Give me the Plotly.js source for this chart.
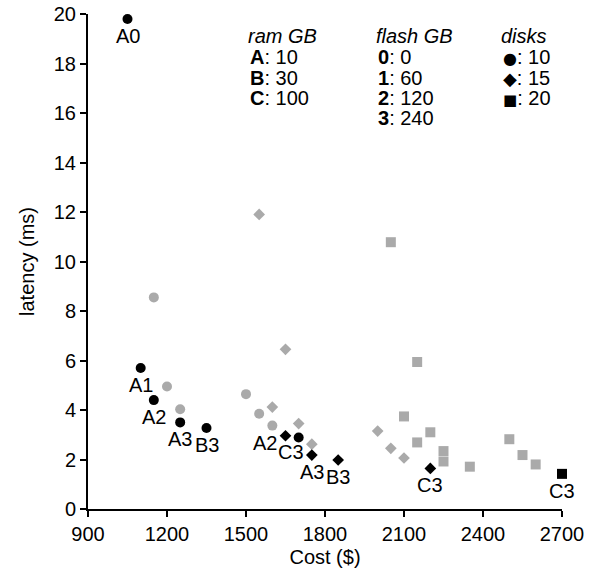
<!DOCTYPE html>
<html>
<head>
<meta charset="utf-8">
<script src="https://cdn.plot.ly/plotly-3.0.1.min.js"></script>
<style>html,body{margin:0;padding:0;background:#fff;}#chart{width:589px;height:576px;}</style>
</head>
<body>
<div id="chart"></div>
<script>
// ---- data ----
const grayCircleCost = [1150, 1200, 1250, 1500, 1550, 1600];
const grayCircleLat  = [8.55, 4.95, 4.03, 4.64, 3.85, 3.37];

const grayDiamondCost = [1550, 1650, 1600, 1700, 1750, 2000, 2050, 2100];
const grayDiamondLat  = [11.9, 6.45, 4.12, 3.45, 2.62, 3.15, 2.45, 2.06];

const graySquareCost = [2050, 2150, 2100, 2200, 2150, 2250, 2250, 2350, 2500, 2550, 2600];
const graySquareLat  = [10.78, 5.94, 3.74, 3.1, 2.69, 2.34, 1.92, 1.71, 2.82, 2.18, 1.8];

const blackCircleCost  = [1050, 1100, 1150, 1250, 1350, 1700];
const blackCircleLat   = [19.8, 5.7, 4.4, 3.5, 3.27, 2.89];
const blackCircleLabel = ['A0', 'A1', 'A2', 'A3', 'B3', 'C3'];

const blackDiamondCost  = [1650, 1750, 1850, 2200];
const blackDiamondLat   = [2.96, 2.18, 1.98, 1.64];
const blackDiamondLabel = ['A2', 'A3', 'B3', 'C3'];

const blackSquareCost  = [2700];
const blackSquareLat   = [1.42];
const blackSquareLabel = ['C3'];

const xTicks = [900, 1200, 1500, 1800, 2100, 2400, 2700];
const yTicks = [0, 2, 4, 6, 8, 10, 12, 14, 16, 18, 20];

const ramTitle = 'ram GB';
const ramKeys = ['A', 'B', 'C'];
const ramVals = ['10', '30', '100'];
const flashTitle = 'flash GB';
const flashKeys = ['0', '1', '2', '3'];
const flashVals = ['0', '60', '120', '240'];
const diskTitle = 'disks';
const diskKeys = ['\u25CF', '\u25C6', '\u25A0'];
const diskVals = ['10', '15', '20'];

// ---- style ----
const FONT = '"Liberation Sans", Arial, Helvetica, sans-serif';
const FS = 20;
const GRAY = '#aaaaaa';
const diskGlyphStyle = [
  'font-family:DejaVu Sans;font-size:16px',
  'font-family:DejaVu Sans;font-size:18px',
  'font-family:DejaVu Sans;font-size:15px'
];

function mk(x, y, sym, color, size) {
  return {
    type: 'scatter', mode: 'markers', x: x, y: y, cliponaxis: false,
    marker: {symbol: sym, color: color, size: size, line: {width: 0}},
    hoverinfo: 'skip', showlegend: false
  };
}

const traces = [
  mk(grayCircleCost, grayCircleLat, 'circle', GRAY, 10),
  mk(grayDiamondCost, grayDiamondLat, 'diamond', GRAY, 9),
  mk(graySquareCost, graySquareLat, 'square', GRAY, 10),
  mk(blackCircleCost, blackCircleLat, 'circle', '#000', 10),
  mk(blackDiamondCost, blackDiamondLat, 'diamond', '#000', 9),
  mk(blackSquareCost, blackSquareLat, 'square', '#000', 10)
];

// label offsets (pixels) -- style only
const defShift = [0, -17];
const specialShift = {'circle-5': [-8, -15], 'diamond-0': [-21, -7]};

const annotations = [];
function addLabels(xs, ys, labels, kind) {
  labels.forEach((t, i) => {
    const s = specialShift[kind + '-' + i] || defShift;
    annotations.push({
      x: xs[i], y: ys[i], xref: 'x', yref: 'y', text: t, showarrow: false,
      xanchor: 'center', yanchor: 'middle', xshift: s[0], yshift: s[1],
      font: {family: FONT, size: FS, color: '#000'}
    });
  });
}
addLabels(blackCircleCost, blackCircleLat, blackCircleLabel, 'circle');
addLabels(blackDiamondCost, blackDiamondLat, blackDiamondLabel, 'diamond');
addLabels(blackSquareCost, blackSquareLat, blackSquareLabel, 'square');

// key block
const rowY = [19.1, 18.25, 17.42, 16.6, 15.78];
function addKey(xLeft, title, keys, vals, keyStyles) {
  annotations.push({
    x: xLeft, y: rowY[0], xref: 'x', yref: 'y', text: '<i>' + title + '</i>',
    showarrow: false, xanchor: 'left', yanchor: 'middle',
    font: {family: FONT, size: FS, color: '#000'}
  });
  keys.forEach((k, i) => {
    const keyTxt = keyStyles ? '<span style="' + keyStyles[i] + '">' + k + '</span>' : '<b>' + k + '</b>';
    annotations.push({
      x: xLeft, y: rowY[i + 1], xref: 'x', yref: 'y', xshift: 2,
      text: keyTxt + ': ' + vals[i],
      showarrow: false, xanchor: 'left', yanchor: 'middle',
      font: {family: FONT, size: FS, color: '#000'}
    });
  });
}
addKey(1500, ramTitle, ramKeys, ramVals);
addKey(1985, flashTitle, flashKeys, flashVals);
addKey(2460, diskTitle, diskKeys, diskVals, diskGlyphStyle);

const axisCommon = {
  showgrid: false, zeroline: false, showline: true, linecolor: '#000', linewidth: 2,
  ticks: 'outside', ticklen: 6, tickwidth: 2, tickcolor: '#000',
  tickfont: {family: FONT, size: FS, color: '#000'}, mirror: false, fixedrange: true
};

const layout = {
  width: 589, height: 576,
  margin: {l: 88, r: 27, t: 14, b: 67},
  paper_bgcolor: '#fff', plot_bgcolor: '#fff',
  font: {family: FONT, size: FS, color: '#000'},
  xaxis: Object.assign({}, axisCommon, {
    range: [900, 2700], tickvals: xTicks, ticktext: xTicks.map(String),
    title: {text: 'Cost ($)', font: {family: FONT, size: FS}, standoff: 6}
  }),
  yaxis: Object.assign({}, axisCommon, {
    range: [0, 20], tickvals: yTicks, ticktext: yTicks.map(String),
    title: {text: 'latency (ms)', font: {family: FONT, size: FS}, standoff: 14}
  }),
  annotations: annotations,
  showlegend: false
};

Plotly.newPlot('chart', traces, layout, {displayModeBar: false, staticPlot: true});
</script>
</body>
</html>
